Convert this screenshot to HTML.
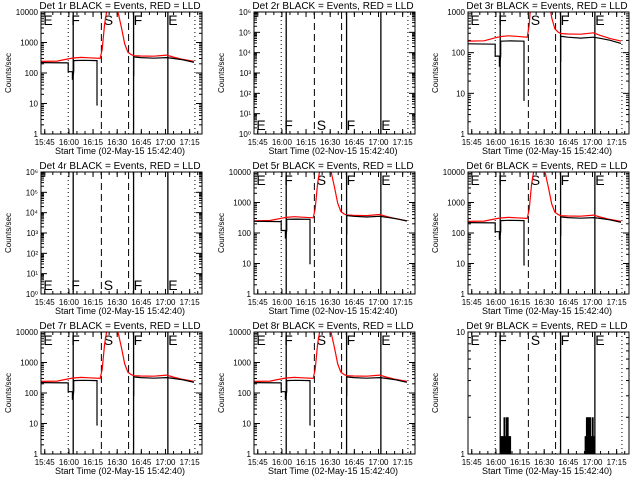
<!DOCTYPE html>
<html><head><meta charset="utf-8"><style>
html,body{margin:0;padding:0;background:#fff;}
svg{display:block;font-family:"Liberation Sans",sans-serif;}
</style></head><body>
<svg id="chart" width="640" height="480" viewBox="0 0 640 480" xmlns="http://www.w3.org/2000/svg"></svg>
<script>
// ---- data (minutes since 15:42:40) ----
const detNames = ["1r","2r","3r","4r","5r","6r","7r","8r","9r"];
const dateLabels = ["02-May-15","02-Nov-15","02-May-15","02-May-15","02-Nov-15","02-May-15","02-May-15","02-May-15","02-May-15"];
const yDecMin = [0,0,0,0,0,0,0,0,0];
const yDecMax = [4,6,3,6,4,4,4,4,1];
const blackScale = [1,0,0.75,0,1.1,1,1,1,0];
const redScale = [1,0,0.8,0,1.05,1,1,1,0];
const xTickLabels = ["15:45","16:00","16:15","16:30","16:45","17:00","17:15"];
const xTickMinutes = [2.33,17.33,32.33,47.33,62.33,77.33,92.33];
const blackT = [0,16.9,16.9,19.5,19.5,20.3,20.3,26,34.8,34.8,35.2];
const blackV = [220,215,110,110,60,110,255,260,255,9,9];
const black2T = [57.6,57.6,58.2,62,70,78,82,88,95];
const black2V = [80,340,335,320,305,320,300,270,225];
const redT = [0,10,16.9,20,25,30,36.8,38,39.5,41,46,48,50,52,54,56,57.6,62,70,78,82,88,95];
const redV = [240,245,290,310,325,315,300,600,4000,12000,12000,9000,3000,900,480,400,370,360,355,385,335,280,240];
const eventLineT = [16.9,20,37.5,54.4,57.5,78.8,95.6];
const eventLineStyle = ["dot","solid","dash","dash","solid","solid","dot"];
const letterT = [1.5,18.8,39,57.5,79];
const letterS = ["E","F","S","F","E"];
const burstT = [20.5,21.3,22,22.6,23.2,24,24.7,25.5,26.2,73,73.8,74.6,75.3,76,76.8,77.5,78.3];
const burstV = [1.4,1.4,1.4,2,1.4,2,2,1.4,1.4,1.4,2,2,2,2,1.4,2,1.4];

const NS="http://www.w3.org/2000/svg";
const svg=document.getElementById('chart');
function mk(tag,attrs,parent){const e=document.createElementNS(NS,tag);for(const k in attrs)e.setAttribute(k,attrs[k]);(parent||svg).appendChild(e);return e;}
const defs=mk('defs',{});

for(let p=0;p<9;p++){
  const ox=Math.round((p%3)*213.33), oy=Math.floor(p/3)*160;
  const L=ox+41,R=ox+202,T=oy+12,B=oy+134;
  const g=mk('g',{});
  
  
  const xs=t=>L+(t/100)*(R-L);
  const d0=yDecMin[p],d1=yDecMax[p];
  const ys=v=>B-(Math.log10(v)-d0)/(d1-d0)*(B-T);
  const cp=mk('clipPath',{id:'c'+p},defs);mk('rect',{x:L,y:T,width:R-L,height:B-T},cp);
  // title
  const ti=mk('text',{x:ox+120,y:oy+9,'text-anchor':'middle','font-size':10},g);
  ti.textContent='Det '+detNames[p]+' BLACK = Events, RED = LLD';
  
  
  // y title
  const yt=mk('text',{x:0,y:0,'text-anchor':'middle','font-size':8,transform:`translate(${ox+11},${oy+73}) rotate(-90)`},g);
  yt.textContent='Counts/sec';
  
  
  // x title
  const xt=mk('text',{x:ox+120,y:oy+154,'text-anchor':'middle','font-size':9},g);
  xt.textContent='Start Time ('+dateLabels[p]+' 15:42:40)';
  
  
  // x ticks
  for(let i=0;i<xTickLabels.length;i++){
    const x=xs(xTickMinutes[i]);
    mk('line',{x1:x,y1:B,x2:x,y2:B-5,stroke:'#000'},g);mk('line',{x1:x,y1:T,x2:x,y2:T+5,stroke:'#000'},g);
    const tl=mk('text',{x:x,y:oy+145,'text-anchor':'middle','font-size':8},g);
    tl.textContent=xTickLabels[i];
    
    
  }
  for(let m=xTickMinutes[0]-15;m<100;m+=5){if(m<0)continue;const x=xs(m);
    mk('line',{x1:x,y1:B,x2:x,y2:B-3,stroke:'#000'},g);mk('line',{x1:x,y1:T,x2:x,y2:T+3,stroke:'#000'},g);}
  // y ticks
  const sup=['⁰','¹','²','³','⁴','⁵','⁶'];
  for(let d=d0;d<=d1;d++){
    const y=ys(Math.pow(10,d));
    mk('line',{x1:L,y1:y,x2:L+6,y2:y,stroke:'#000'},g);mk('line',{x1:R,y1:y,x2:R-6,y2:y,stroke:'#000'},g);
    const lab=(p===1||p===3)?('10'+sup[d]):String(Math.pow(10,d));
    const yl=mk('text',{x:L-3,y:y+3,'text-anchor':'end','font-size':8},g);
    yl.textContent=lab;
    
    
    if(d<d1)for(let k=2;k<10;k++){const yy=ys(k*Math.pow(10,d));
      mk('line',{x1:L,y1:yy,x2:L+3,y2:yy,stroke:'#000'},g);mk('line',{x1:R,y1:yy,x2:R-3,y2:yy,stroke:'#000'},g);}
  }
  // event lines
  for(let i=0;i<eventLineT.length;i++){
    const x=xs(eventLineT[i]);const st=eventLineStyle[i];
    const ln=mk('line',{x1:x,y1:T,x2:x,y2:B,stroke:'#000','stroke-width':st==='solid'?1.3:1,'stroke-dasharray':st==='dot'?'1,3':(st==='dash'?'7,4':'none')},g);
    
    
  }
  // letters
  const atBottom=(p===1||p===3);
  for(let i=0;i<letterS.length;i++){
    const lt=mk('text',{x:xs(letterT[i]),y:atBottom?B-4:T+13,'font-size':14,transform:`scale(1,1)`},g);
    lt.textContent=letterS[i];
    
    
  }
  const cg=mk('g',{'clip-path':`url(#c${p})`},g);
  function stepPath(ts,vs,sc){let d='';for(let i=0;i<ts.length;i++){d+=(i?'L':'M')+xs(ts[i]).toFixed(1)+','+ys(vs[i]*sc).toFixed(1);}return d;}
  if(redScale[p]>0){
    const rp=mk('path',{d:stepPath(redT,redV,redScale[p]),fill:'none',stroke:'#f00','stroke-width':1.2},cg);
    
    
    const b1=mk('path',{d:stepPath(blackT,blackV,blackScale[p]),fill:'none',stroke:'#000','stroke-width':1.2},cg);
    
    
    const b2=mk('path',{d:stepPath(black2T,black2V,blackScale[p]),fill:'none',stroke:'#000','stroke-width':1.2},cg);
    
    
  }
  if(p===8){
    for(let i=0;i<burstT.length;i++){
      const x=xs(burstT[i]);
      const r=mk('rect',{x:x-0.9,y:ys(burstV[i]),width:1.8,height:B-ys(burstV[i]),fill:'#000'},cg);
      
      
    }
  }
  const box=mk('rect',{x:L,y:T,width:R-L,height:B-T,fill:'none',stroke:'#000','stroke-width':1},g);
  
  
}
</script>
</body></html>
